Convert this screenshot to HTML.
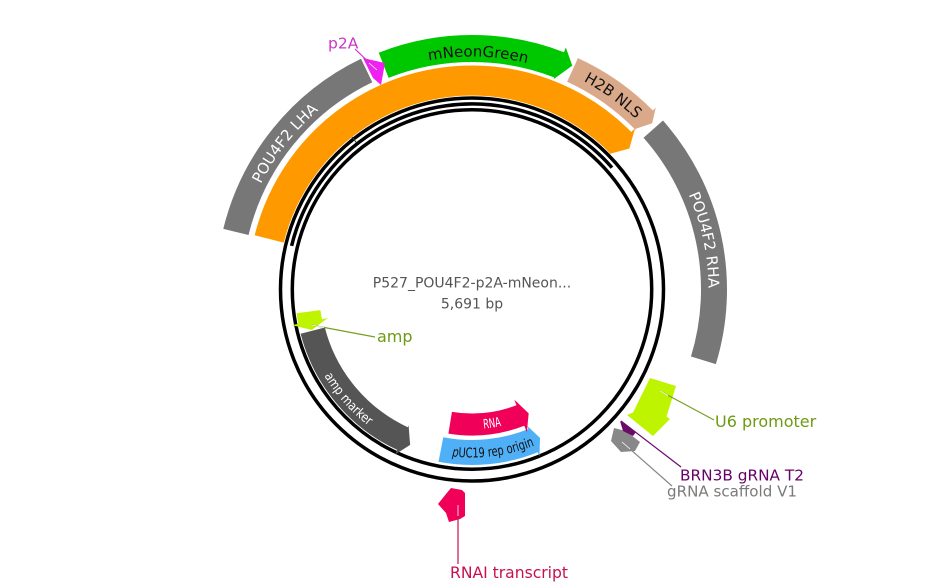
<!DOCTYPE html>
<html>
<head>
<meta charset="utf-8">
<style>
html,body{margin:0;padding:0;background:#fff;width:944px;height:586px;overflow:hidden;position:relative;}
svg{display:block;position:absolute;left:0;top:0;overflow:hidden;}
text{font-family:"DejaVu Sans","Liberation Sans",sans-serif;}
</style>
</head>
<body>
<svg width="944" height="586" viewBox="0 0 944 586" xmlns="http://www.w3.org/2000/svg">
<rect width="944" height="586" fill="#fff"/>
<defs>
  <path id="tG" d="M360.8,84.7 A233,233 0 0 1 593.7,90.8"/>
  <path id="tH" d="M537.2,62.2 A236.5,236.5 0 0 1 668.1,157.3"/>
  <path id="tL" d="M247.5,216.6 A236,236 0 0 1 346.9,89.4"/>
  <path id="tR" d="M672.6,164.2 A236.5,236.5 0 0 1 706.2,322.4"/>
  <path id="tA" d="M312.9,352.2 A171,171 0 0 0 390.4,439.8"/>
  <path id="tN" d="M444.2,426.2 A139.5,139.5 0 0 0 538.6,412.2"/>
  <path id="tP" d="M435.6,453.5 A168,168 0 0 0 549.6,438.5"/>
</defs>

<g transform="translate(472 289.5)" fill="none">
  <circle r="191.5" stroke="#000" stroke-width="3.5"/>
  <circle r="179.7" stroke="#000" stroke-width="3.5"/>
  <circle r="185.6" stroke="#000" stroke-width="3.5" stroke-dasharray="405.9 3000" transform="rotate(-166.4)"/>
  <line x1="0" y1="-187" x2="0" y2="-196" stroke="#333" stroke-width="1" transform="rotate(-38.2)"/>

  <circle r="209" stroke="#ff9900" stroke-width="30" stroke-dasharray="443.6 3000" transform="rotate(-166)"/>
  <polygon points="0,-229.5 10.5,-211 0,-192.5" fill="#ff9900" transform="rotate(45.3)"/>

  <circle r="243" stroke="#777" stroke-width="26" stroke-dasharray="214.6 3000" transform="rotate(-166.3)"/>

  <circle r="241" stroke="#00c800" stroke-width="27" stroke-dasharray="180.9 3000" transform="rotate(-111.5)"/>
  <polygon points="0,-259.5 12.5,-245 0,-225.5" fill="#00c800" transform="rotate(21.2)"/>

  <circle r="241.5" stroke="#daa98a" stroke-width="26" stroke-dasharray="88.5 3000" transform="rotate(-65.4)"/>
  <polygon points="0,-258.5 8.6,-245 0,-227.5" fill="#daa98a" transform="rotate(45.3)"/>

  <circle r="242" stroke="#777" stroke-width="26" stroke-dasharray="247.1 3000" transform="rotate(-41.5)"/>

  <circle r="164.5" stroke="#555" stroke-width="25" stroke-dasharray="145.9 3000" transform="rotate(114.7)"/>
  <polygon points="0,-182 -9.6,-167 0,-150" fill="#555" transform="rotate(205)"/>

  <circle r="165" stroke="#bef400" stroke-width="24" stroke-dasharray="10.9 3000" transform="rotate(168.5)"/>
  <polygon points="0,-183.5 -8.6,-165 0,-147" fill="#bef400" transform="rotate(258.8)"/>

  <circle r="163" stroke="#4fb0f7" stroke-width="25" stroke-dasharray="94.7 3000" transform="rotate(67.7)"/>
  <polygon points="0,-180 -7.5,-163 0,-147" fill="#4fb0f7" transform="rotate(158)"/>

  <circle r="135" stroke="#f00058" stroke-width="22" stroke-dasharray="72.1 3000" transform="rotate(68.7)"/>
  <polygon points="0,-153 -8.5,-136 0,-118" fill="#f00058" transform="rotate(159)"/>
</g>

<polygon points="363,58 385,63 381,85 373,78" fill="#f020f0"/>
<polygon points="650,378 676,386 666.5,416.5 670,419 653,436 627,415 633,412.5" fill="#bef400"/>
<polygon points="614,428 626,431 640,442 635,451 621,452 611,441" fill="#888"/>
<polygon points="620,421 636,432 633,436 623,431" fill="#6a0a6a"/>
<polygon points="438,504 446,494 451,488 462,490 465,493 465,516 460,519 449,522 446,513" fill="#f00058"/>

<line x1="355" y1="49" x2="377" y2="70" stroke="#d030d0" stroke-width="1.2"/>
<line x1="369" y1="63" x2="377" y2="70" stroke="#fff" stroke-width="0.8"/>
<line x1="311" y1="325" x2="375" y2="337" stroke="#77a020" stroke-width="1.2"/>
<line x1="311" y1="325" x2="324" y2="327.5" stroke="#fff" stroke-width="0.8"/>
<line x1="660" y1="391" x2="714" y2="420" stroke="#77a020" stroke-width="1.2"/>
<line x1="660" y1="391" x2="668" y2="395.5" stroke="#fff" stroke-width="0.8"/>
<line x1="621" y1="421" x2="681" y2="467" stroke="#6a0a6a" stroke-width="1.2"/>
<line x1="622" y1="442" x2="672" y2="486" stroke="#888" stroke-width="1.2"/>
<line x1="622" y1="442" x2="630" y2="449" stroke="#fff" stroke-width="0.8"/>
<line x1="458" y1="508" x2="458" y2="564" stroke="#c8104e" stroke-width="1.2"/>
<line x1="458" y1="505" x2="458" y2="516" stroke="#fff" stroke-width="0.8"/>

<text font-size="15" fill="#111" text-anchor="middle"><textPath href="#tG" startOffset="50%">mNeonGreen</textPath></text>
<text font-size="15" fill="#111" text-anchor="middle"><textPath href="#tH" startOffset="50%">H2B NLS</textPath></text>
<text font-size="15" fill="#fff" text-anchor="middle"><textPath href="#tL" startOffset="50%">POU4F2 LHA</textPath></text>
<text font-size="15" fill="#fff" text-anchor="middle"><textPath href="#tR" startOffset="50%">POU4F2 RHA</textPath></text>
<text font-size="13" fill="#fff" text-anchor="middle"><textPath href="#tA" startOffset="50%" textLength="67" lengthAdjust="spacingAndGlyphs">amp marker</textPath></text>
<text font-size="13" fill="#fff" text-anchor="middle"><textPath href="#tN" startOffset="50%" textLength="18" lengthAdjust="spacingAndGlyphs">RNA</textPath></text>
<text font-size="13.5" fill="#111" text-anchor="middle"><textPath href="#tP" startOffset="50%" textLength="84" lengthAdjust="spacingAndGlyphs"><tspan font-style="italic">p</tspan>UC19 rep origin</textPath></text>

<text x="472" y="287.5" font-size="14" fill="#555" text-anchor="middle">P527_POU4F2-p2A-mNeon...</text>
<text x="472" y="308.5" font-size="14" fill="#555" text-anchor="middle">5,691 bp</text>

<text x="328" y="48.5" font-size="15.5" fill="#c936c9">p2A</text>
<text x="377" y="342" font-size="16" fill="#6e9a14">amp</text>
<text x="715" y="427" font-size="16" fill="#6e9a14">U6 promoter</text>
<text x="680" y="480.5" font-size="15.5" fill="#660066" textLength="124" lengthAdjust="spacingAndGlyphs">BRN3B gRNA T2</text>
<text x="667" y="496.5" font-size="15.5" fill="#7a7a7a" textLength="130" lengthAdjust="spacingAndGlyphs">gRNA scaffold V1</text>
<text x="450" y="578" font-size="16" fill="#c8104e" textLength="118" lengthAdjust="spacingAndGlyphs">RNAI transcript</text>
</svg>
</body>
</html>
